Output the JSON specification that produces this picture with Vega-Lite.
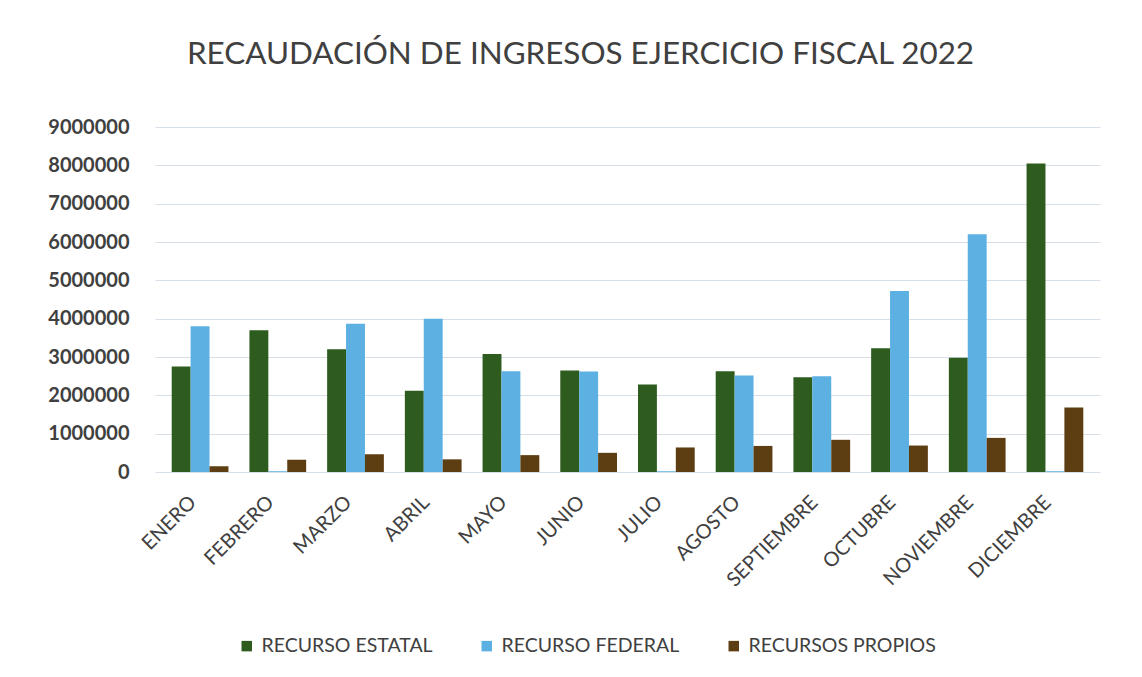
{
  "$schema": "https://vega.github.io/schema/vega-lite/v6.json",
  "autosize": {"type": "none"},
  "width": 945,
  "height": 345,
  "padding": {"left": 155, "top": 127, "right": 42, "bottom": 205},
  "background": "white",
  "title": {
    "text": "RECAUDACIÓN DE INGRESOS EJERCICIO FISCAL 2022",
    "font": "Lato",
    "fontSize": 31.4,
    "fontWeight": "normal",
    "color": "#404040",
    "anchor": "middle",
    "dx": -47,
    "offset": 47
  },
  "data": {
    "values": [
      {"mes": "ENERO", "serie": "RECURSO ESTATAL", "valor": 2750000},
      {"mes": "ENERO", "serie": "RECURSO FEDERAL", "valor": 3800000},
      {"mes": "ENERO", "serie": "RECURSOS PROPIOS", "valor": 150000},
      {"mes": "FEBRERO", "serie": "RECURSO ESTATAL", "valor": 3700000},
      {"mes": "FEBRERO", "serie": "RECURSO FEDERAL", "valor": 20000},
      {"mes": "FEBRERO", "serie": "RECURSOS PROPIOS", "valor": 320000},
      {"mes": "MARZO", "serie": "RECURSO ESTATAL", "valor": 3200000},
      {"mes": "MARZO", "serie": "RECURSO FEDERAL", "valor": 3870000},
      {"mes": "MARZO", "serie": "RECURSOS PROPIOS", "valor": 460000},
      {"mes": "ABRIL", "serie": "RECURSO ESTATAL", "valor": 2120000},
      {"mes": "ABRIL", "serie": "RECURSO FEDERAL", "valor": 4000000},
      {"mes": "ABRIL", "serie": "RECURSOS PROPIOS", "valor": 330000},
      {"mes": "MAYO", "serie": "RECURSO ESTATAL", "valor": 3080000},
      {"mes": "MAYO", "serie": "RECURSO FEDERAL", "valor": 2630000},
      {"mes": "MAYO", "serie": "RECURSOS PROPIOS", "valor": 440000},
      {"mes": "JUNIO", "serie": "RECURSO ESTATAL", "valor": 2650000},
      {"mes": "JUNIO", "serie": "RECURSO FEDERAL", "valor": 2620000},
      {"mes": "JUNIO", "serie": "RECURSOS PROPIOS", "valor": 500000},
      {"mes": "JULIO", "serie": "RECURSO ESTATAL", "valor": 2280000},
      {"mes": "JULIO", "serie": "RECURSO FEDERAL", "valor": 20000},
      {"mes": "JULIO", "serie": "RECURSOS PROPIOS", "valor": 640000},
      {"mes": "AGOSTO", "serie": "RECURSO ESTATAL", "valor": 2630000},
      {"mes": "AGOSTO", "serie": "RECURSO FEDERAL", "valor": 2520000},
      {"mes": "AGOSTO", "serie": "RECURSOS PROPIOS", "valor": 680000},
      {"mes": "SEPTIEMBRE", "serie": "RECURSO ESTATAL", "valor": 2470000},
      {"mes": "SEPTIEMBRE", "serie": "RECURSO FEDERAL", "valor": 2500000},
      {"mes": "SEPTIEMBRE", "serie": "RECURSOS PROPIOS", "valor": 840000},
      {"mes": "OCTUBRE", "serie": "RECURSO ESTATAL", "valor": 3230000},
      {"mes": "OCTUBRE", "serie": "RECURSO FEDERAL", "valor": 4720000},
      {"mes": "OCTUBRE", "serie": "RECURSOS PROPIOS", "valor": 690000},
      {"mes": "NOVIEMBRE", "serie": "RECURSO ESTATAL", "valor": 2980000},
      {"mes": "NOVIEMBRE", "serie": "RECURSO FEDERAL", "valor": 6200000},
      {"mes": "NOVIEMBRE", "serie": "RECURSOS PROPIOS", "valor": 890000},
      {"mes": "DICIEMBRE", "serie": "RECURSO ESTATAL", "valor": 8050000},
      {"mes": "DICIEMBRE", "serie": "RECURSO FEDERAL", "valor": 20000},
      {"mes": "DICIEMBRE", "serie": "RECURSOS PROPIOS", "valor": 1680000}
    ]
  },
  "mark": {"type": "bar"},
  "encoding": {
    "x": {
      "field": "mes",
      "type": "nominal",
      "sort": null,
      "title": null,
      "scale": {"paddingInner": 0.27, "paddingOuter": 0.215},
      "axis": {
        "labelAngle": -45,
        "labelAlign": "right",
        "labelBaseline": "middle",
        "labelPadding": 27,
        "labelOffset": -7,
        "labelFont": "Lato",
        "labelFontSize": 20,
        "labelColor": "#404040",
        "labelLimit": 300,
        "ticks": false,
        "domain": false,
        "grid": false
      }
    },
    "xOffset": {
      "field": "serie",
      "type": "nominal",
      "sort": ["RECURSO ESTATAL", "RECURSO FEDERAL", "RECURSOS PROPIOS"],
      "scale": {"paddingInner": 0, "paddingOuter": 0}
    },
    "y": {
      "field": "valor",
      "type": "quantitative",
      "title": null,
      "scale": {"domain": [0, 9000000], "nice": false},
      "axis": {
        "values": [0, 1000000, 2000000, 3000000, 4000000, 5000000, 6000000, 7000000, 8000000, 9000000],
        "format": "d",
        "labelFont": "Lato",
        "labelFontSize": 20,
        "labelFontWeight": "bold",
        "labelColor": "#404040",
        "labelPadding": 26,
        "ticks": false,
        "domain": false,
        "gridColor": "#d6dfe8",
        "gridWidth": 1
      }
    },
    "color": {
      "field": "serie",
      "type": "nominal",
      "scale": {
        "domain": ["RECURSO ESTATAL", "RECURSO FEDERAL", "RECURSOS PROPIOS"],
        "range": ["#2E5C1F", "#5CB0E2", "#5C3E12"]
      },
      "legend": {
        "title": null,
        "orient": "none",
        "direction": "horizontal",
        "legendX": 82,
        "legendY": 509,
        "symbolType": "square",
        "symbolSize": 110,
        "symbolStrokeWidth": 0,
        "labelFont": "Lato",
        "labelFontSize": 19.5,
        "labelColor": "#404040",
        "labelLimit": 400,
        "columnPadding": 44,
        "labelOffset": 5
      }
    }
  },
  "config": {"view": {"stroke": null}}
}
